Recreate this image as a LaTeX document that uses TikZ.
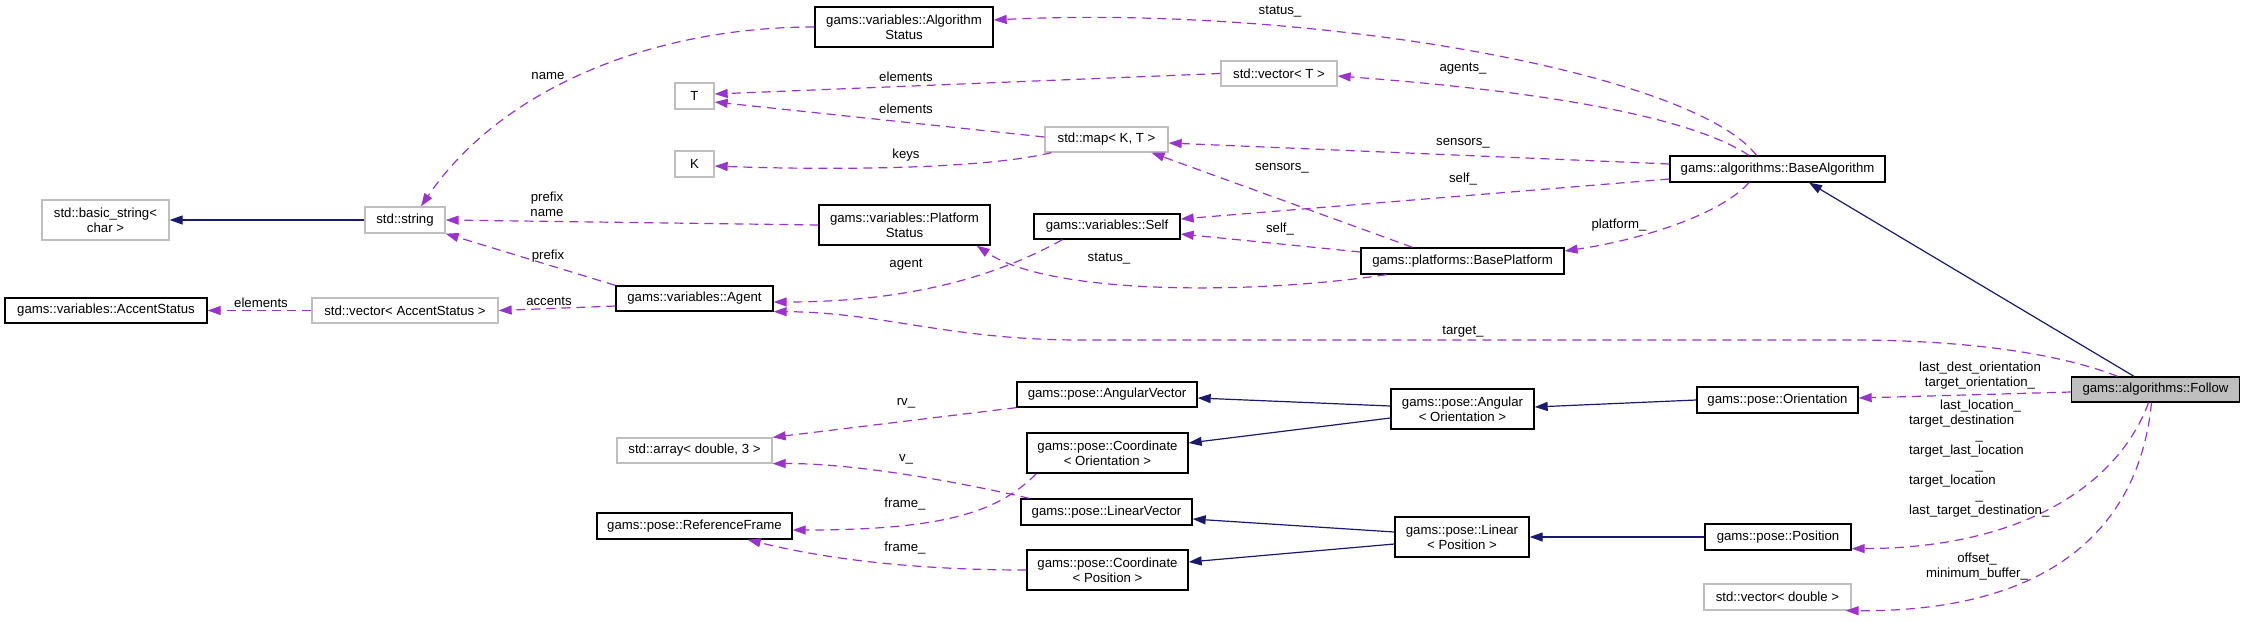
\documentclass[tikz,border=0pt]{standalone}
\usepackage{fontspec}
\setmainfont{Liberation Sans}
\usetikzlibrary{arrows.meta}
\definecolor{usecol}{HTML}{9A32CD}
\definecolor{inhcol}{HTML}{191970}
\definecolor{extgray}{HTML}{BFBFBF}
\tikzset{
  cls/.style={draw=black, line width=1.3pt, inner sep=0pt, align=center},
  extcls/.style={cls, draw=extgray},
  maincls/.style={cls, fill=extgray},
  sz/.style 2 args={minimum width=#1pt, minimum height=#2pt},
  lbl/.style={inner sep=0pt, align=center},
  usearrow/.style={-{Triangle[length=13pt, width=9pt]}, line width=1.2pt, color=usecol, dash pattern=on 9pt off 6pt},
  inharrow/.style={-{Triangle[length=13pt, width=9pt]}, line width=1.2pt, color=inhcol}
}
\begin{document}
\begin{tikzpicture}[x=1pt, y=-1pt, every node/.style={font=\fontsize{13.2}{15}\selectfont}]
  \useasboundingbox (0,0) rectangle (2245,621);

  % Classes
  \node[extcls, sz={127}{40}] (bstr) at (105.5,220) {std::basic\_string<\\char >};
  \node[extcls, sz={80}{26}] (str) at (405,220) {std::string};
  \node[cls, sz={202}{25}] (accst) at (106,310.5) {gams::variables::AccentStatus};
  \node[extcls, sz={186}{25}] (vecacc) at (405,310.5) {std::vector< AccentStatus >};
  \node[extcls, sz={39}{26}] (T) at (694.5,96) {T};
  \node[extcls, sz={39}{26}] (K) at (694.5,164) {K};
  \node[cls, sz={157}{25}] (agent) at (694.5,298.5) {gams::variables::Agent};
  \node[extcls, sz={155}{25}] (array) at (694.5,450.5) {std::array< double, 3 >};
  \node[cls, sz={195}{26}] (refframe) at (694.5,526) {gams::pose::ReferenceFrame};
  \node[cls, sz={178}{40}] (algst) at (904,27) {gams::variables::Algorithm\\Status};
  \node[cls, sz={171}{40}] (platst) at (904.5,225) {gams::variables::Platform\\Status};
  \node[extcls, sz={123}{25}] (map) at (1106.5,139.5) {std::map< K, T >};
  \node[cls, sz={146}{25}] (self) at (1107,226.5) {gams::variables::Self};
  \node[cls, sz={180}{25}] (angvec) at (1107,394.5) {gams::pose::AngularVector};
  \node[cls, sz={161}{40}] (coordo) at (1107.5,453) {gams::pose::Coordinate\\< Orientation >};
  \node[cls, sz={171}{26}] (linvec) at (1106.5,512) {gams::pose::LinearVector};
  \node[cls, sz={161}{40}] (coordp) at (1107.5,570) {gams::pose::Coordinate\\< Position >};
  \node[extcls, sz={116}{25}] (vecT) at (1279,73.5) {std::vector< T >};
  \node[cls, sz={203}{26}] (baseplat) at (1462.5,261) {gams::platforms::BasePlatform};
  \node[cls, sz={143}{40}] (angular) at (1462.5,409) {gams::pose::Angular\\< Orientation >};
  \node[cls, sz={134}{40}] (linear) at (1462,537) {gams::pose::Linear\\< Position >};
  \node[cls, sz={215}{26}] (basealg) at (1777.5,169) {gams::algorithms::BaseAlgorithm};
  \node[cls, sz={161}{26}] (orient) at (1777.5,400) {gams::pose::Orientation};
  \node[cls, sz={146}{26}] (pos) at (1778,537) {gams::pose::Position};
  \node[extcls, sz={147}{26}] (vecdbl) at (1777.5,597) {std::vector< double >};
  \node[maincls, sz={168}{25}] (follow) at (2155.5,389.5) {gams::algorithms::Follow};

  % Inheritance
  \draw[inharrow] (str) -- (bstr);
  \draw[inharrow] ([xshift=-21.5pt]follow.north) -- ([xshift=31.5pt]basealg.south);
  \draw[inharrow] (orient.west) -- ([yshift=2pt]angular.east);
  \draw[inharrow] (pos) -- (linear);
  \draw[inharrow] ([yshift=3pt]angular.west) -- ([yshift=-3.5pt]angvec.east);
  \draw[inharrow] ([yshift=-9pt]angular.west) -- ([yshift=10pt]coordo.east);
  \draw[inharrow] ([yshift=5pt]linear.west) -- ([yshift=-7pt]linvec.east);
  \draw[inharrow] ([yshift=-7pt]linear.west) -- ([yshift=8pt]coordp.east);

  % Usage
  \draw[usearrow] (algst.west) .. controls (650,27) and (500,90) .. ([xshift=16pt]str.north);
  \draw[usearrow] (platst.west) -- (str.east);
  \draw[usearrow] (agent.north west) -- (str.south east);
  \draw[usearrow] (vecT.west) -- ([yshift=2pt]T.east);
  \draw[usearrow] ([yshift=2.5pt]map.west) -- ([yshift=-6pt]T.east);
  \draw[usearrow] ([xshift=7pt]map.south west) .. controls (980,170) and (820,170) .. ([yshift=-2pt]K.east);
  \draw[usearrow] (vecacc) -- (accst);
  \draw[usearrow] ([yshift=-7.5pt]agent.west) -- (vecacc.east);
  \draw[usearrow] ([xshift=29pt]self.south west) .. controls (990,280) and (900,302) .. ([yshift=-3.5pt]agent.east);
  \draw[usearrow] ([xshift=-38pt]follow.north) .. controls (2050,350) and (1950,340) .. (1850,340)
    -- (1080,340) .. controls (950,340) and (880,312) .. (agent.south east);
  \draw[usearrow] ([xshift=-21pt]basealg.north) .. controls (1690,70) and (1300,5) .. ([yshift=7pt]algst.east);
  \draw[usearrow] ([xshift=-28.5pt]basealg.north) .. controls (1680,110) and (1500,88) .. ([yshift=-2.5pt]vecT.east);
  \draw[usearrow] ([yshift=5pt]basealg.west) -- ([yshift=-3.5pt]map.east);
  \draw[usearrow] ([yshift=-10pt]basealg.west) -- ([yshift=7.5pt]self.east);
  \draw[usearrow] ([xshift=-28.5pt]basealg.south) .. controls (1720,215) and (1640,240) .. ([yshift=10pt]baseplat.east);
  \draw[usearrow] ([xshift=-50pt]baseplat.north) -- ([xshift=45pt]map.south);
  \draw[usearrow] ([yshift=9pt]baseplat.west) -- ([yshift=-7.5pt]self.east);
  \draw[usearrow] ([xshift=26pt]baseplat.south west) .. controls (1250,295) and (1050,295) .. ([xshift=-14pt]platst.south east);
  \draw[usearrow] ([yshift=-2.5pt]follow.west) -- ([yshift=2pt]orient.east);
  \draw[usearrow] ([xshift=-7pt]follow.south) .. controls (2120,480) and (2030,548) .. ([yshift=2pt]pos.south east);
  \draw[usearrow] ([xshift=-4pt]follow.south) .. controls (2140,520) and (2060,612) .. ([xshift=-6pt]vecdbl.south east);
  \draw[usearrow] (angvec.south west) -- (array.north east);
  \draw[usearrow] ([xshift=9pt]linvec.north west) .. controls (950,480) and (850,463) .. (array.south east);
  \draw[usearrow] ([xshift=10pt]coordo.south west) .. controls (1000,510) and (950,530) .. ([yshift=-4pt]refframe.east);
  \draw[usearrow] (coordp.west) .. controls (920,570) and (830,560) .. ([xshift=-45pt]refframe.south east);

  % Labels
  \node[lbl] (lname) at (548,76) {name};
  \node[lbl] (lprefixname) at (547,204.5) {prefix\\name};
  \node[lbl] (lprefix) at (548,256) {prefix};
  \node[lbl] (lelemacc) at (261,303) {elements};
  \node[lbl] (laccents) at (549,301) {accents};
  \node[lbl] (lelemT) at (906,77) {elements};
  \node[lbl] (lelemmap) at (906,109) {elements};
  \node[lbl] (lkeys) at (906,155) {keys};
  \node[lbl] (lagent) at (906,265) {agent};
  \node[lbl] (lrv) at (906,403) {rv\_};
  \node[lbl] (lv) at (906,459) {v\_};
  \node[lbl] (lframeo) at (905,504) {frame\_};
  \node[lbl] (lframep) at (905,548) {frame\_};
  \node[lbl] (lstatusalg) at (1280,12) {status\_};
  \node[lbl] (lsensplat) at (1282,168) {sensors\_};
  \node[lbl] (lselfplat) at (1280,229) {self\_};
  \node[lbl] (lstatusplat) at (1109,259) {status\_};
  \node[lbl] (lagents) at (1463,69) {agents\_};
  \node[lbl] (lsensalg) at (1463,143) {sensors\_};
  \node[lbl] (lselfalg) at (1463,179) {self\_};
  \node[lbl] (ltarget) at (1463,332) {target\_};
  \node[lbl] (lplatform) at (1619,225) {platform\_};
  \node[lbl] (lorient) at (1980,375.5) {last\_dest\_orientation\\target\_orientation\_};
  \node[lbl, anchor=north west, align=left] (lpos) at (1909,400) {\hspace*{31pt}last\_location\_\\target\_destination\\\hspace*{66.5pt}\_\\target\_last\_location\\\hspace*{66.5pt}\_\\target\_location\\\hspace*{66.5pt}\_\\last\_target\_destination\_};
  \node[lbl] (loffset) at (1977,566.5) {offset\_\\minimum\_buffer\_};
\end{tikzpicture}
\end{document}
